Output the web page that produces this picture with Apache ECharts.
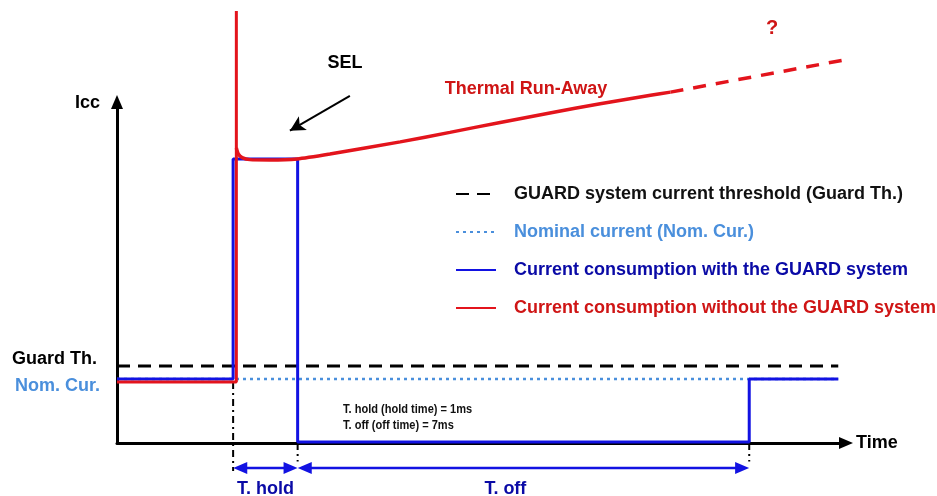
<!DOCTYPE html>
<html>
<head>
<meta charset="utf-8">
<script src="https://cdn.jsdelivr.net/npm/echarts@6/dist/echarts.min.js"></script>
<style>html,body{margin:0;padding:0;background:#fff}#c{width:937px;height:496px}</style>
</head>
<body>
<div id="c"></div>
<script>
// ---- data (time in ms relative to SEL onset, current in arbitrary units) ----
var seriesNames = [
  'GUARD system current threshold (Guard Th.)',
  'Nominal current (Nom. Cur.)',
  'Current consumption with the GUARD system',
  'Current consumption without the GUARD system'
];
var guardTh = [[-1.8, 22.6], [9.38, 22.6]];
var nomCur = [[-1.8, 18.8], [9.38, 18.8]];
var withGuard = [[-1.8, 18.8], [0, 18.8], [0, 83.3], [1, 83.3], [1, 0.3], [8, 0.3], [8, 18.8], [9.38, 18.8]];
var withoutGuardStep = [[-1.8, 17.9], [0.05, 17.9], [0.05, 126.7], [0.05, 86.5]];
var withoutGuardCurve = [[0.05, 86.5], [0.08, 84.75], [0.14, 83.7], [0.26, 83.1], [0.57, 83.0], [0.99, 83.3], [1.5, 84.75], [2.59, 88.3], [3.36, 91.1], [4.14, 94.0], [4.91, 96.8], [5.69, 99.5], [6.47, 102.0], [6.78, 102.9]];
var withoutGuardFuture = [[6.78, 102.9], [9.72, 113.2]];
var tHold = [0, 1];       // ms
var tOff = [1, 8];        // ms
var spanLabels = ['T. hold', 'T. off'];
var spanLabelPos = [[0.5, -7.3], [4.22, -7.3]];
var yLabels = ['Guard Th.', 'Nom. Cur.'];
var notes = ['T. hold (hold time) = 1ms', 'T. off (off time) = 7ms'];
var selArrow = [[1.81, 101.8], [0.88, 91.6]];

var FONT = 'Liberation Sans, Arial, Helvetica, sans-serif';
var BLUE = '#1212e2', RED = '#e3141c', LBLUE = '#4a8fdc', DBLUE = '#0a0aa6', DRED = '#cf1515';

var chart = echarts.init(document.getElementById('c'));
var arrowY = -7.3;
var dashDot = { color: '#000', width: 2, type: [7, 4, 2, 4] };

function guide(x, y0, y1) {
  return { type: 'line', data: [[x, y0], [x, y1]], symbol: 'none', clip: false, z: 3, silent: true, lineStyle: dashDot };
}
function span(a, b) {
  return {
    type: 'line', clip: false, z: 4, silent: true, symbol: 'triangle', symbolSize: [12, 14], showSymbol: true,
    itemStyle: { color: BLUE }, lineStyle: { color: BLUE, width: 2.5 },
    data: [
      { value: [a + 0.11, arrowY], symbolRotate: 90 },
      { value: [b - 0.11, arrowY], symbolRotate: -90 }
    ]
  };
}
var option = {
  animation: false,
  grid: { left: 117, right: 91, top: 102, bottom: 53 },
  xAxis: {
    type: 'value', min: -1.8, max: 9.5,
    axisLine: { show: true, onZero: false, lineStyle: { color: '#000', width: 3 }, symbol: ['none', 'triangle'], symbolSize: [12, 14] },
    axisTick: { show: false }, axisLabel: { show: false }, splitLine: { show: false },
    name: 'Time', nameLocation: 'end', nameGap: 10,
    nameTextStyle: { fontFamily: FONT, fontSize: 18, fontWeight: 'bold', color: '#000' }
  },
  yAxis: {
    type: 'value', min: 0, max: 100,
    axisLine: { show: true, onZero: false, lineStyle: { color: '#000', width: 3 }, symbol: ['none', 'triangle'], symbolSize: [12, 14] },
    axisTick: { show: false }, axisLabel: { show: false }, splitLine: { show: false },
    name: 'Icc', nameLocation: 'end', nameGap: -1,
    nameTextStyle: { fontFamily: FONT, fontSize: 18, fontWeight: 'bold', color: '#000', align: 'right', verticalAlign: 'middle', padding: [0, 17, 0, 0] }
  },
  legend: {
    orient: 'vertical', left: 450, top: 180, itemWidth: 40, itemHeight: 14, itemGap: 20,
    selectedMode: false,
    itemStyle: { opacity: 0 },
    textStyle: { fontFamily: FONT, fontSize: 18, fontWeight: 'bold', padding: [0, 0, 0, 13] },
    data: [
      { name: seriesNames[0], textStyle: { color: '#111' } },
      { name: seriesNames[1], textStyle: { color: LBLUE } },
      { name: seriesNames[2], textStyle: { color: DBLUE } },
      { name: seriesNames[3], textStyle: { color: DRED } }
    ]
  },
  series: [
    { name: seriesNames[0], type: 'line', data: guardTh, symbol: 'none', color: '#000', z: 2,
      lineStyle: { color: '#000', width: 3, type: [13, 8] } },
    { name: seriesNames[1], type: 'line', data: nomCur, symbol: 'none', color: LBLUE, z: 2,
      lineStyle: { color: LBLUE, width: 2.5, type: [3, 4] } },
    { name: seriesNames[2], type: 'line', data: withGuard, symbol: 'none', color: BLUE, z: 4, clip: false,
      lineStyle: { color: BLUE, width: 3 } },
    { name: seriesNames[3], type: 'line', data: withoutGuardStep, symbol: 'none', color: RED, z: 5, clip: false,
      lineStyle: { color: RED, width: 3 } },
    { name: seriesNames[3], type: 'line', data: withoutGuardCurve, symbol: 'none', color: RED, z: 5, clip: false,
      smooth: 0.2, lineStyle: { color: RED, width: 3.5 } },
    { name: seriesNames[3], type: 'line', data: withoutGuardFuture, symbol: 'none', color: RED, z: 5, clip: false,
      lineStyle: { color: RED, width: 3.5, type: [13, 10] } },
    guide(tHold[0], 17.9, -8.2),
    guide(tHold[1], 0, -5.4),
    guide(tOff[1], 0, -5.4),
    span(tHold[0], tHold[1]),
    span(tOff[0], tOff[1]),
    { type: 'scatter', data: spanLabelPos, symbolSize: 0, clip: false, silent: true,
      itemStyle: { opacity: 1, color: DBLUE },
      label: { show: true, position: 'bottom', distance: 12, color: DBLUE, fontFamily: FONT, fontSize: 18, fontWeight: 'bold',
        formatter: function (p) { return spanLabels[p.dataIndex]; } } },
    { type: 'line', clip: false, z: 4, silent: true, showSymbol: true, symbolSize: [12, 15],
      itemStyle: { color: '#000' }, lineStyle: { color: '#000', width: 2 },
      data: [
        { value: selArrow[0], symbol: 'none' },
        { value: selArrow[1], symbol: 'arrow', symbolRotate: 120 }
      ] }
  ],
  graphic: [
    { type: 'text', x: 345, y: 63, style: { text: 'SEL', font: 'bold 18px ' + FONT, fill: '#000', align: 'center', verticalAlign: 'middle' } },
    { type: 'text', x: 526, y: 89, style: { text: 'Thermal Run-Away', font: 'bold 18px ' + FONT, fill: DRED, align: 'center', verticalAlign: 'middle' } },
    { type: 'text', x: 772, y: 28, style: { text: '?', font: 'bold 20px ' + FONT, fill: DRED, align: 'center', verticalAlign: 'middle' } },
    { type: 'text', x: 97, y: 359, style: { text: yLabels[0], font: 'bold 18px ' + FONT, fill: '#000', align: 'right', verticalAlign: 'middle' } },
    { type: 'text', x: 100, y: 386, style: { text: yLabels[1], font: 'bold 18px ' + FONT, fill: LBLUE, align: 'right', verticalAlign: 'middle' } },
    { type: 'text', x: 343, y: 409, scaleX: 0.85, style: { text: notes[0], font: 'bold 13px ' + FONT, fill: '#111', align: 'left', verticalAlign: 'middle' } },
    { type: 'text', x: 343, y: 425, scaleX: 0.85, style: { text: notes[1], font: 'bold 13px ' + FONT, fill: '#111', align: 'left', verticalAlign: 'middle' } }
  ]
};
chart.setOption(option);
</script>
</body>
</html>
